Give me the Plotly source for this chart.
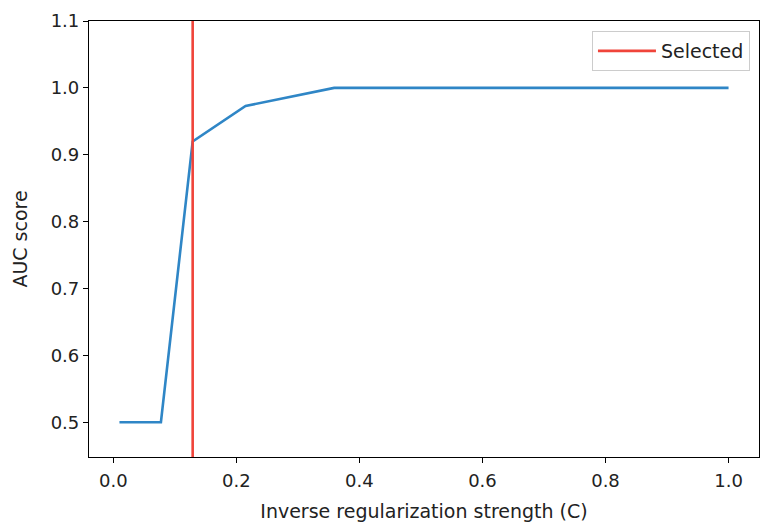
import plotly.graph_objects as go

C_values = [0.01, 0.0167, 0.0278, 0.0464, 0.0774, 0.129, 0.215, 0.359, 0.599, 1.0]
auc_scores = [0.5, 0.5, 0.5, 0.5, 0.5, 0.92, 0.973, 1.0, 1.0, 1.0]
selected_C = 0.129
x_ticks = [0.0, 0.2, 0.4, 0.6, 0.8, 1.0]
y_ticks = [0.5, 0.6, 0.7, 0.8, 0.9, 1.0, 1.1]

fig = go.Figure()
fig.add_trace(go.Scatter(x=C_values, y=auc_scores, mode="lines",
                         line=dict(color="#2f86c6", width=2.6),
                         showlegend=False, hoverinfo="x+y"))
fig.add_trace(go.Scatter(x=[selected_C, selected_C], y=[0.3, 1.3], mode="lines",
                         line=dict(color="#f0443a", width=2.6),
                         name="Selected"))

axis_common = dict(showgrid=False, zeroline=False, showline=True, linecolor="black",
                   linewidth=1.2, mirror=True, ticks="outside", ticklen=5,
                   tickwidth=1.2, tickcolor="black", automargin=False,
                   tickfont=dict(family="DejaVu Sans", size=18, color="#222"))

fig.update_layout(
    width=762, height=524,
    margin=dict(l=89, r=3, t=21, b=67, autoexpand=False),
    paper_bgcolor="white", plot_bgcolor="white",
    font=dict(family="DejaVu Sans", color="#222"),
    xaxis=dict(range=[-0.0395, 1.0495], tickvals=x_ticks,
               ticktext=[f"{v:.1f}" for v in x_ticks], ticklabelstandoff=2,
               title=dict(text="Inverse regularization strength (C)",
                          font=dict(size=19), standoff=14), **axis_common),
    yaxis=dict(range=[0.448, 1.1], tickvals=y_ticks,
               ticktext=[f"{v:.1f}" for v in y_ticks],
               title=dict(text="AUC score", font=dict(size=19), standoff=18),
               **axis_common),
    legend=dict(x=0.9865, y=0.977, xanchor="right", yanchor="top",
                bgcolor="rgba(255,255,255,0.9)", bordercolor="#ccc", borderwidth=1,
                itemwidth=58,
                font=dict(family="DejaVu Sans", size=19, color="#222")),
)

fig.write_html("out.html", config={"displayModeBar": False},
               post_script="document.body.style.margin='0';")
